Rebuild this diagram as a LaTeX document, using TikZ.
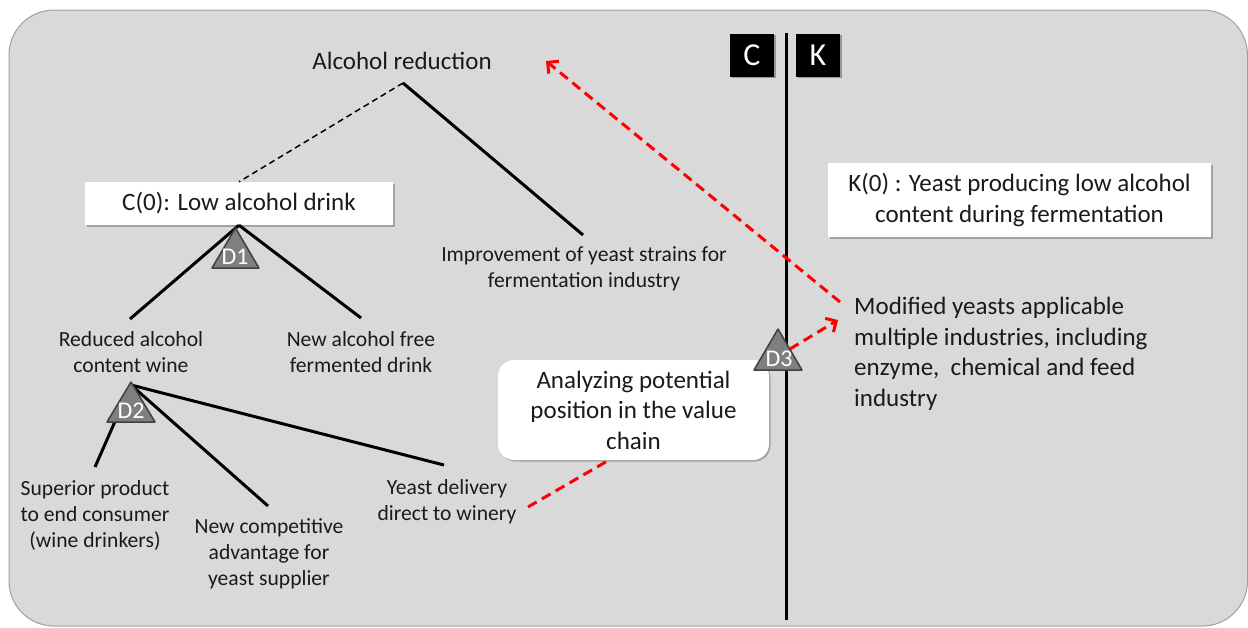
\documentclass[tikz,border=0pt]{standalone}
\usepackage{fontspec}
\setmainfont{Carlito}
\usetikzlibrary{arrows.meta,shadows}
\definecolor{bg}{HTML}{D9D9D9}
\definecolor{trifill}{HTML}{7F7F7F}
\definecolor{tridraw}{HTML}{404040}
\definecolor{txt}{HTML}{1A1A1A}
\begin{document}
\begin{tikzpicture}[x=1pt,y=-1pt,
  lbl/.style={inner sep=0pt, align=center, font=\fontsize{21.6}{26}\selectfont, text=txt},
  big/.style={inner sep=0pt, align=center, font=\fontsize{25}{30.5}\selectfont, text=txt},
  wbox/.style={fill=white, inner sep=0pt, align=center, font=\fontsize{25}{30.5}\selectfont, text=txt,
    drop shadow={shadow xshift=1.5pt, shadow yshift=-1.5pt, opacity=0.25, fill=black}},
  ckbox/.style={fill=black, text=white, inner sep=0pt, minimum width=44pt, minimum height=43pt,
    font=\fontsize{32}{34}\selectfont,
    drop shadow={shadow xshift=1.5pt, shadow yshift=-1.5pt, opacity=0.3, fill=black}},
  tline/.style={line width=3pt, black},
  tri/.style={fill=trifill, draw=tridraw, line width=1.5pt, line join=round},
  dlbl/.style={inner sep=0pt, text=white, font=\fontsize{24}{26}\selectfont},
  reddash/.style={draw=red, line width=3pt, dash pattern=on 10pt off 6pt},
  redarrow/.style={reddash, -{Straight Barb[length=8pt,width=16pt,line width=3pt]}}
]
\useasboundingbox (0,0) rectangle (1248,627);
% background panel
\draw[draw=gray!75, fill=bg, line width=1pt, rounded corners=45pt] (9,10) rectangle (1247.5,626);

% C / K divider
\coordinate (vtop) at (786,33);
\coordinate (vbot) at (786,620);
\draw[line width=3pt] (vtop) -- (vbot);
\node[ckbox] (cb) at (752,55) {C};
\node[ckbox] (kb) at (818,55) {K};

% top node
\node[big] (ar) at (402,61) {Alcohol reduction};
\coordinate (arA) at (403,83);

% C(0) box
\node[wbox, minimum width=308pt, minimum height=43pt] (c0) at (239,203.5) {C(0): Low alcohol drink};

% labels
\node[lbl] (imp) at (584,269) {Improvement of yeast strains for\\fermentation industry};
\node[lbl] (rac) at (131,352) {Reduced alcohol\\content wine};
\node[lbl] (naf) at (361,352) {New alcohol free\\fermented drink};
\node[lbl] (sup) at (95,515) {Superior product\\to end consumer\\(wine drinkers)};
\node[lbl] (ncomp) at (269,554) {New competitive\\advantage for\\yeast supplier};
\node[lbl] (ydel) at (447,501.5) {Yeast delivery\\direct to winery};

% endpoints of tree branches
\coordinate (impT) at (583,235);
\coordinate (racT) at (130,319);
\coordinate (nafT) at (361,318);
\coordinate (d2A) at (131,385);
\coordinate (supT) at (95,467);
\coordinate (ncompT) at (268,506);
\coordinate (ydelT) at (444,465);

% tree lines
\draw[tline] (arA) -- (impT);
\draw[line width=1.5pt, dash pattern=on 6pt off 4pt] (arA) -- (c0.north);
\draw[tline] (c0.south) -- (racT);
\draw[tline] (c0.south) -- (nafT);
\draw[tline] (d2A) -- (supT);
\draw[tline] (d2A) -- (ncompT);
\draw[tline] (d2A) -- (ydelT);

% decision triangles
\draw[tri] (235.5,228) -- (259,268) -- (212,268) -- cycle;
\node[dlbl] (d1) at (235,257) {D1};
\draw[tri] (131,382) -- (155,422) -- (107,422) -- cycle;
\node[dlbl] (d2) at (131,411) {D2};

% red dashed from winery towards D3 (passes under box)
\coordinate (yw) at (528,507);
\coordinate (d3c) at (778,362);
\draw[reddash] (yw) -- (d3c);

% analysing box
\node[wbox, rounded corners=16pt, minimum width=271pt, minimum height=100pt] (anl) at (633.5,410)
  {Analyzing potential\\position in the value\\chain};

% D3
\draw[tri] (778,329) -- (802,370) -- (754,370) -- cycle;
\node[dlbl] (d3) at (779,359) {D3};

% K(0) box
\node[wbox, minimum width=383pt, minimum height=74pt] (k0) at (1019.5,200)
  {K(0) : Yeast producing low alcohol\\content during fermentation};

% modified yeasts
\node[big, align=left, anchor=west] (mod) at (854,354)
  {Modified yeasts applicable\\multiple industries, including\\enzyme,\ \ chemical and feed\\industry};

% red arrows
\coordinate (d3r) at (790,349);
\coordinate (modA) at (838,320);
\draw[redarrow] (d3r) -- (modA);
\coordinate (modB) at (840,302);
\coordinate (arR) at (546,61);
\draw[redarrow] (modB) -- (arR);
\end{tikzpicture}
\end{document}
